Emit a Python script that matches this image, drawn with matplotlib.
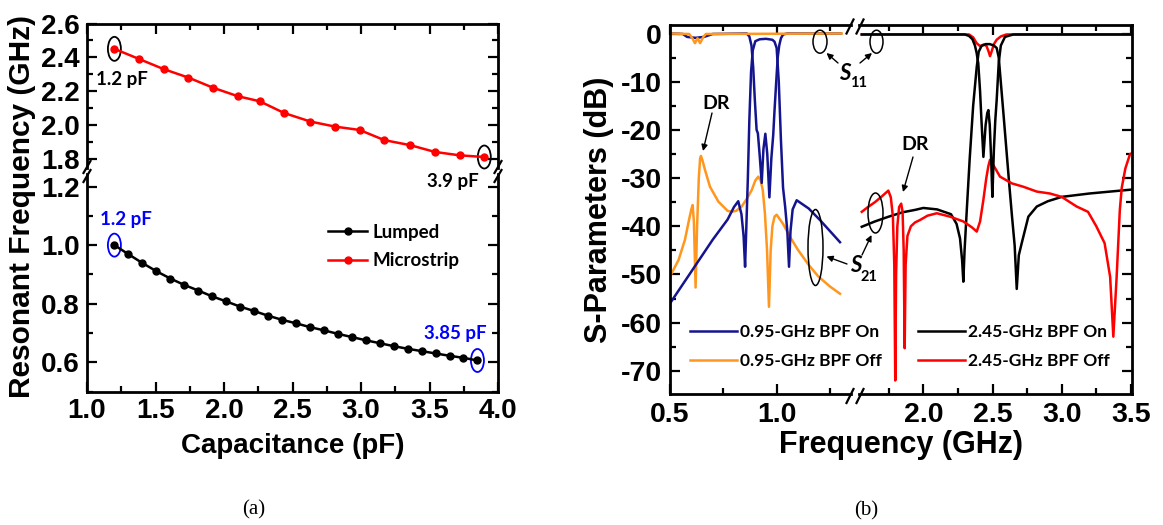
import matplotlib
matplotlib.use("Agg")
import matplotlib.pyplot as plt
import matplotlib.transforms as mtransforms
from matplotlib.patches import Ellipse, FancyArrowPatch
from matplotlib.lines import Line2D
from matplotlib.ticker import MultipleLocator

# ---------------- (a) resonant frequency vs. capacitance ----------------
micro_cap = [1.2, 1.38, 1.56, 1.74, 1.92, 2.10, 2.26, 2.44, 2.63, 2.81, 2.99,
             3.17, 3.36, 3.54, 3.72, 3.9]
micro_freq = [2.45, 2.39, 2.33, 2.28, 2.22, 2.17, 2.14, 2.07, 2.02, 1.99, 1.97,
              1.91, 1.88, 1.84, 1.82, 1.81]

lumped_cap = [1.200, 1.302, 1.404, 1.506, 1.608, 1.710, 1.812, 1.913, 2.015,
              2.117, 2.219, 2.321, 2.423, 2.525, 2.627, 2.729, 2.831, 2.933,
              3.035, 3.137, 3.238, 3.340, 3.442, 3.544, 3.646, 3.748, 3.850]
lumped_freq = [1.000, 0.969, 0.939, 0.911, 0.886, 0.864, 0.845, 0.825, 0.808,
               0.790, 0.775, 0.759, 0.745, 0.733, 0.720, 0.709, 0.697, 0.686,
               0.675, 0.665, 0.655, 0.646, 0.638, 0.630, 0.622, 0.615, 0.606]

# ---------------- (b) S-parameters ----------------
# 0.95-GHz BPF, On state
f95_on_s21 = [0.5, 0.6, 0.7, 0.77, 0.80, 0.82, 0.835, 0.845, 0.852, 0.858, 0.865,
              0.872, 0.88, 0.888, 0.90, 0.92, 0.95, 0.98, 0.99, 1.0, 1.01, 1.02,
              1.03, 1.04, 1.05, 1.058, 1.065, 1.075, 1.094, 1.15, 1.203, 1.25, 1.297]
s21_95_on = [-56, -49.4, -42.8, -38.6, -36.0, -34.8, -37.5, -42, -48.4, -40, -30,
             -18, -8, -3.5, -1.6, -1.2, -1.1, -1.3, -1.7, -3, -10, -22,
             -32, -36, -41, -48.4, -41, -36.5, -34.6, -36.3, -38.7, -41, -43.3]

f95_on_s11 = [0.5, 0.56, 0.58, 0.62, 0.66, 0.70, 0.86, 0.872, 0.882, 0.89, 0.898,
              0.906, 0.912, 0.92, 0.93, 0.938, 0.947, 0.956, 0.966, 0.975, 0.984,
              0.99, 0.998, 1.005, 1.012, 1.02, 1.03, 1.05, 1.3]
s11_95_on = [0, -0.1, -0.7, -0.9, -0.7, -0.1, 0, -0.6, -2.5, -7, -14,
             -20, -20.7, -25, -31, -24, -20.8, -25, -34, -26, -21,
             -16, -10, -5, -2.5, -1, -0.2, 0, 0]

# 0.95-GHz BPF, Off state
f95_off_s21 = [0.5, 0.54, 0.57, 0.59, 0.60, 0.606, 0.612, 0.62, 0.627, 0.635,
               0.641, 0.645, 0.652, 0.664, 0.6875, 0.727, 0.77, 0.789, 0.81, 0.836,
               0.86, 0.883, 0.90, 0.914, 0.925, 0.935, 0.945, 0.955, 0.964, 0.972,
               0.98, 0.99, 1.0, 1.03, 1.06, 1.10, 1.15, 1.195, 1.25, 1.297]
s21_95_off = [-50.4, -47, -42.8, -38.5, -36.5, -35.6, -39, -52.7, -40, -30,
              -26, -25.4, -26.3, -28.3, -31.8, -34.9, -36.8, -37, -36.8, -35.9,
              -34.3, -32.5, -30.5, -29.7, -30.5, -32.5, -37.3, -45, -56.7, -45,
              -40, -38, -37.6, -39.5, -42, -44.9, -48, -50.4, -52.5, -54]

f95_off_s11 = [0.5, 0.59, 0.605, 0.617, 0.629, 0.641, 0.655, 0.668, 1.305]
s11_95_off = [0, -0.1, -1.0, -2.0, -1.0, -2.0, -0.8, -0.1, 0]

# 2.45-GHz BPF, On state
f245_on_s21 = [1.555, 1.65, 1.75, 1.85, 1.94, 2.0, 2.1, 2.2, 2.24, 2.265, 2.28,
               2.289, 2.298, 2.314, 2.335, 2.36, 2.386, 2.40, 2.42, 2.45, 2.48,
               2.51, 2.53, 2.545, 2.58, 2.62, 2.64, 2.66, 2.675, 2.69, 2.711,
               2.759, 2.82, 2.9, 3.0, 3.2, 3.5]
s21_245_on = [-40.1, -39, -38, -37.1, -36.6, -36.2, -36.5, -37.5, -39.5, -42.5, -47,
              -51.5, -45, -36.6, -26, -15, -6.9, -3.8, -2.6, -2.2, -2.2,
              -2.5, -3, -5, -17, -31, -37.7, -44, -53, -46, -43.5,
              -38, -35.9, -34.8, -33.9, -33.2, -32.4]

f245_on_s11 = [1.555, 2.30, 2.33, 2.355, 2.373, 2.385, 2.397, 2.41, 2.42, 2.434,
               2.45, 2.462, 2.47, 2.48, 2.49, 2.499, 2.51, 2.52, 2.53, 2.545,
               2.56, 2.59, 2.65, 3.5]
s11_245_on = [-0.2, -0.2, -0.5, -1.2, -2.5, -4, -6.2, -12, -18, -25.6,
              -19, -16.5, -15.9, -19, -26, -33.9, -24, -18, -13.8, -6,
              -2.5, -0.7, -0.2, -0.2]

# 2.45-GHz BPF, Off state
f245_off_s21 = [1.555, 1.6, 1.65, 1.70, 1.747, 1.765, 1.78, 1.79, 1.797, 1.803,
                1.812, 1.825, 1.84, 1.85, 1.858, 1.865, 1.872, 1.885, 1.91, 1.94,
                1.976, 2.03, 2.097, 2.193, 2.289, 2.35, 2.386, 2.41, 2.434, 2.455,
                2.47, 2.482, 2.495, 2.52, 2.554, 2.64, 2.723, 2.82, 2.915, 3.0,
                3.108, 3.19, 3.25, 3.31, 3.35, 3.373, 3.397, 3.42, 3.434, 3.46,
                3.494, 3.505]
s21_245_off = [-37, -36, -35, -33.8, -32.6, -34, -38, -48, -72, -50,
               -40, -36, -35.3, -37, -45, -65.3, -48, -42, -40, -39.2,
               -38.7, -37.8, -37.3, -38, -39, -40.2, -41.1, -39, -34.5, -30,
               -27.5, -26.2, -26.8, -28, -29.7, -31.1, -31.8, -32.8, -33.2, -33.9,
               -35.9, -37, -40, -43.5, -50.5, -62.9, -50.5, -36.6, -32, -28,
               -25, -24.9]

f245_off_s11 = [1.555, 2.33, 2.36, 2.385, 2.41, 2.435, 2.455, 2.47, 2.482, 2.495,
                2.51, 2.53, 2.56, 2.60, 3.5]
s11_245_off = [-0.2, -0.2, -0.8, -2.0, -2.6, -2.3, -2.5, -3.6, -4.7, -3.6,
               -2.2, -1.3, -0.6, -0.2, -0.2]

# ---------------- styling ----------------
W, H, DPI = 1163, 525, 100
plt.rcParams.update({
    "font.family": "Liberation Sans",
    "font.weight": "bold",
    "axes.linewidth": 2.0,
    "axes.unicode_minus": False,
})
ANN = "Lato"
NAVY = "#14148f"
ORANGE = "#ff961e"
BLUE = "#0000ff"

fig = plt.figure(figsize=(W / DPI, H / DPI), dpi=DPI)
fig.patch.set_facecolor("white")


def box(x0, y0, x1, y1):
    """Axes rectangle from pixel edges measured from the top-left corner."""
    return [x0 / W, 1 - y1 / H, (x1 - x0) / W, (y1 - y0) / H]


def fp(x, y):
    return (x / W, 1 - y / H)


def tick_style(ax, size, pad):
    ax.tick_params(which="both", direction="in", width=1.6, labelsize=size, pad=pad)
    ax.tick_params(which="major", length=7)
    ax.tick_params(which="minor", length=4)


def ring(ax, x, y, w, h, color, lw=1.3):
    tr = fig.dpi_scale_trans + mtransforms.ScaledTranslation(x, y, ax.transData)
    ax.add_artist(Ellipse((0, 0), w / DPI, h / DPI, transform=tr, fill=False,
                          ec=color, lw=lw, clip_on=False))


def fig_ring(x, y, w, h, lw=1.1):
    fig.add_artist(Ellipse(fp(x, y), w / W, h / H, transform=fig.transFigure,
                           fill=False, ec="black", lw=lw))


def arrow(x0, y0, x1, y1):
    fig.add_artist(FancyArrowPatch(fp(x0, y0), fp(x1, y1), transform=fig.transFigure,
                                   arrowstyle="-|>", mutation_scale=9, lw=1.0,
                                   color="black", shrinkA=0, shrinkB=0))


def slash_pair(xc_list, yc, dx=3.5, dy=7):
    for xc in xc_list:
        x0, y0 = fp(xc - dx, yc + dy)
        x1, y1 = fp(xc + dx, yc - dy)
        fig.add_artist(Line2D([x0, x1], [y0, y1], transform=fig.transFigure,
                              color="black", lw=1.6))


# ---------------- panel (a) ----------------
ax_hi = fig.add_axes(box(87, 23.5, 498, 168))
ax_lo = fig.add_axes(box(87, 174, 498, 391.5))
ax_lo.patch.set_visible(False)
for ax in (ax_hi, ax_lo):
    ax.set_xlim(1.0, 4.0)
    ax.xaxis.set_major_locator(MultipleLocator(0.5))
    ax.xaxis.set_minor_locator(MultipleLocator(0.25))
    ax.yaxis.set_major_locator(MultipleLocator(0.2))
    ax.yaxis.set_minor_locator(MultipleLocator(0.1))
    tick_style(ax, 20, 5)
ax_hi.set_ylim(1.745, 2.6)
ax_lo.set_ylim(0.5, 1.243)
ax_hi.spines["bottom"].set_visible(False)
ax_lo.spines["top"].set_visible(False)
ax_hi.tick_params(which="both", bottom=False, labelbottom=False, top=True,
                  left=True, right=True)
ax_lo.tick_params(which="both", top=False, bottom=True, left=True, right=True)

l_micro, = ax_hi.plot(micro_cap, micro_freq, "-o", color="red", lw=1.8, ms=5,
                      clip_on=False, zorder=3)
l_lump, = ax_lo.plot(lumped_cap, lumped_freq, "-o", color="black", lw=1.8, ms=5,
                     clip_on=False, zorder=3)

ring(ax_hi, micro_cap[0], micro_freq[0], 13, 24, "black")
ring(ax_hi, micro_cap[-1], micro_freq[-1], 13, 23, "black")
ring(ax_lo, lumped_cap[0], lumped_freq[0], 13, 23, BLUE)
ring(ax_lo, lumped_cap[-1], lumped_freq[-1], 13, 23, BLUE)

ann_kw = dict(family=ANN, weight="bold", size=13.5, ha="center", va="center")
ax_hi.text(1.255, 2.27, "1.2 pF", color="black", **ann_kw)
ax_hi.text(3.668, 1.667, "3.9 pF", color="black", clip_on=False, zorder=5, **ann_kw)
ax_lo.text(1.284, 1.086, "1.2 pF", color=BLUE, **ann_kw)
ax_lo.text(3.686, 0.697, "3.85 pF", color=BLUE, **ann_kw)

ax_lo.legend(handles=[l_lump, l_micro], labels=["Lumped", "Microstrip"],
             loc="upper left", bbox_to_anchor=((328 - 87) / 411, (391.5 - 224) / 217.5),
             frameon=False, borderpad=0, borderaxespad=0, handlelength=2.1,
             handletextpad=0.3, labelspacing=0.6, numpoints=1,
             prop={"family": ANN, "weight": "bold", "size": 13.5})

slash_pair([87], 167, dx=3.5, dy=6)
slash_pair([87], 176, dx=3.5, dy=6)
slash_pair([498], 167, dx=3.5, dy=6)
slash_pair([498], 176, dx=3.5, dy=6)

fig.text(22 / W, 1 - 206 / H, "Resonant Frequency (GHz)", rotation=90,
         ha="center", va="center", size=21.5, weight="bold")
fig.text(292.5 / W, 1 - 453 / H, "Capacitance (pF)", ha="center", va="baseline",
         size=20, weight="bold")

# ---------------- panel (b) ----------------
ax_a = fig.add_axes(box(670, 24.5, 851, 393.5))
ax_b = fig.add_axes(box(859, 24.5, 1132, 393.5))
ax_b.patch.set_visible(False)
ax_a.set_xlim(0.5, 1.3486)
ax_b.set_xlim(1.535, 3.508)
for ax in (ax_a, ax_b):
    ax.set_ylim(-74.7, 1.87)
    ax.xaxis.set_major_locator(MultipleLocator(0.5))
    ax.xaxis.set_minor_locator(MultipleLocator(0.25))
    ax.yaxis.set_major_locator(MultipleLocator(10))
    ax.yaxis.set_minor_locator(MultipleLocator(5))
    tick_style(ax, 20.5, 6)
ax_a.spines["right"].set_visible(False)
ax_b.spines["left"].set_visible(False)
ax_a.tick_params(which="both", top=True, bottom=True, left=True, right=False)
ax_b.tick_params(which="both", top=True, bottom=True, left=False, labelleft=False,
                 right=True, labelright=False)

lw_s = 1.8
ax_a.plot(f95_off_s21, s21_95_off, color=ORANGE, lw=lw_s)
l_on95, = ax_a.plot(f95_on_s21, s21_95_on, color=NAVY, lw=lw_s)
ax_a.plot(f95_on_s11, s11_95_on, color=NAVY, lw=lw_s)
l_off95, = ax_a.plot(f95_off_s11, s11_95_off, color=ORANGE, lw=lw_s)

ax_b.plot(f245_off_s11, s11_245_off, color="red", lw=lw_s)
l_on245, = ax_b.plot(f245_on_s21, s21_245_on, color="black", lw=lw_s)
l_off245, = ax_b.plot(f245_off_s21, s21_245_off, color="red", lw=lw_s)
ax_b.plot(f245_on_s11, s11_245_on, color="black", lw=lw_s)

leg_kw = dict(loc="upper left", frameon=False, borderpad=0, borderaxespad=0,
              handlelength=2.7, handletextpad=0.2, labelspacing=0.75,
              prop={"family": ANN, "weight": "bold", "size": 12.5})
ax_a.legend(handles=[l_on95, l_off95], labels=["0.95-GHz BPF On", "0.95-GHz BPF Off"],
            bbox_to_anchor=((690 - 670) / 181, (393.5 - 324) / 369), **leg_kw)
ax_b.legend(handles=[l_on245, l_off245], labels=["2.45-GHz BPF On", "2.45-GHz BPF Off"],
            bbox_to_anchor=((918 - 859) / 273, (393.5 - 324) / 369), **leg_kw)

slash_pair([850, 860], 26.5)
slash_pair([850, 860], 396)

# S11 / S21 callouts
fig_ring(820, 41.7, 14, 23)
fig_ring(876.5, 41.7, 13, 23)
arrow(838, 63, 826.5, 53)
arrow(860, 63, 872, 53)
fig.text(845 / W, 1 - 73 / H, "S", family=ANN, style="italic", weight="bold",
         size=16, ha="center", va="center")
fig.text(859 / W, 1 - 83 / H, "11", family=ANN, weight="bold", size=10.5,
         ha="center", va="center")

fig_ring(815.5, 247.5, 15, 76)
fig_ring(875.5, 213, 15, 40)
arrow(847, 264, 826.5, 256.5)
arrow(862, 255, 871.5, 235)
fig.text(856 / W, 1 - 265 / H, "S", family=ANN, style="italic", weight="bold",
         size=16, ha="center", va="center")
fig.text(869 / W, 1 - 277 / H, "21", family=ANN, weight="bold", size=10.5,
         ha="center", va="center")

# DR callouts
fig.text(716 / W, 1 - 103 / H, "DR", family=ANN, weight="bold", size=14,
         ha="center", va="center")
arrow(712, 113, 703, 151)
fig.text(915 / W, 1 - 145 / H, "DR", family=ANN, weight="bold", size=14,
         ha="center", va="center")
arrow(913, 157, 903, 192)

fig.text(599 / W, 1 - 210 / H, "S-Parameters (dB)", rotation=90,
         ha="center", va="center", size=22, weight="bold")
fig.text(901 / W, 1 - 453 / H, "Frequency (GHz)", ha="center", va="baseline",
         size=22, weight="bold")

# captions
fig.text(254 / W, 1 - 510 / H, "(a)", family="Liberation Serif", weight="normal",
         size=15, ha="center", va="center")
fig.text(866 / W, 1 - 511 / H, "(b)", family="Liberation Serif", weight="normal",
         size=15, ha="center", va="center")

fig.savefig("out.png", dpi=DPI, facecolor="white")
